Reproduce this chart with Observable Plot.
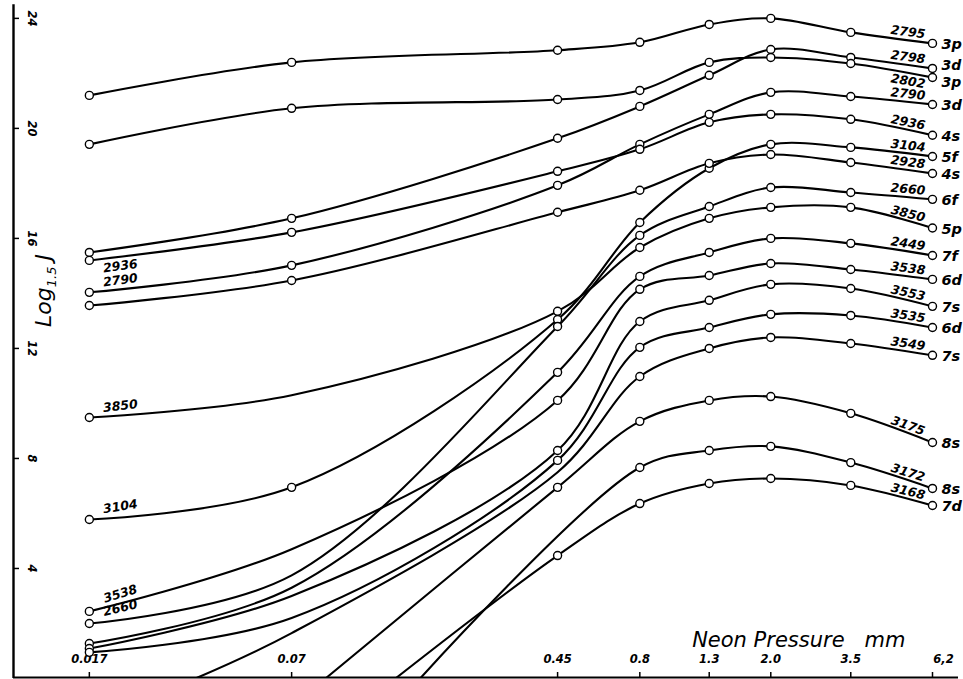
<!DOCTYPE html>
<html>
<head>
<meta charset="utf-8">
<script src="https://cdn.jsdelivr.net/npm/d3@7"></script>
<script src="https://cdn.jsdelivr.net/npm/@observablehq/plot@0.6"></script>
<style>
  html, body { margin: 0; padding: 0; background: #fff; }
  #chart { width: 963px; height: 679px; }
</style>
</head>
<body>
<div id="chart"></div>
<script>
// ---------- data ----------
const pressures = [0.017, 0.07, 0.45, 0.8, 1.3, 2.0, 3.5, 6.2];
const pressureLabels = ["0.017", "0.07", "0.45", "0.8", "1.3", "2.0", "3.5", "6,2"];
const yTicks = [4, 8, 12, 16, 20, 24];

const wavelengths = ["2795","2798","2802","2790","2936","3104","2928","2660","3850",
                     "2449","3538","3553","3535","3549","3175","3172","3168"];
const terms = ["3p","3d","3p","3d","4s","5f","4s","6f","5p",
               "7f","6d","7s","6d","7s","8s","8s","7d"];

// log1.5 J at each pressure (null = no measured point)
const s2795 = [21.2, 22.4, 22.84, 23.13, 23.78, 24.0, 23.49, 23.09];
const s2798 = [15.49, 16.73, 19.64, 20.8, 21.93, 22.87, 22.58, 22.18];
const s2802 = [19.42, 20.73, 21.05, 21.38, 22.4, 22.58, 22.36, 21.85];
const s2790 = [14.04, 15.02, 17.93, 19.42, 20.51, 21.31, 21.16, 20.87];
const s2936 = [15.2, 16.22, 18.44, 19.24, 20.22, 20.51, 20.33, 19.75];
const s3104 = [5.78, 6.95, 13.05, 16.58, 18.55, 19.42, 19.31, 18.98];
const s2928 = [13.56, 14.47, 16.95, 17.75, 18.73, 19.05, 18.76, 18.36];
const s2660 = [2.0, null, 12.8, 16.11, 17.16, 17.85, 17.67, 17.42];
const s3850 = [9.49, null, 13.35, 15.67, 16.73, 17.13, 17.13, 16.38];
const s2449 = [1.27, null, 11.13, 14.62, 15.49, 16.0, 15.82, 15.38];
const s3538 = [2.44, null, 10.11, 14.15, 14.65, 15.09, 14.87, 14.51];
const s3553 = [1.09, null, 8.29, 12.98, 13.75, 14.33, 14.18, 13.53];
const s3535 = [0.95, null, 7.93, 12.04, 12.76, 13.24, 13.2, 12.76];
const s3549 = [null, null, null, 10.98, 12.0, 12.4, 12.18, 11.75];
const s3175 = [null, null, 6.95, 9.35, 10.11, 10.25, 9.64, 8.58];
const s3172 = [null, null, null, 7.67, 8.29, 8.44, 7.85, 6.91];
const s3168 = [null, null, 4.47, 6.36, 7.09, 7.27, 7.02, 6.29];

const series = [s2795, s2798, s2802, s2790, s2936, s3104, s2928, s2660, s3850,
                s2449, s3538, s3553, s3535, s3549, s3175, s3172, s3168];

// unmarked points the drawn curves pass through
const guidePoints = {
  "3850": [[0.07, 10.3]],
  "2660": [[0.07, 3.75]],
  "3538": [[0.07, 4.7]],
  "2449": [[0.07, 3.3]],
  "3553": [[0.07, 3.0]],
  "3535": [[0.07, 2.2]],
  "3549": [[0.0357, 0], [0.07, 1.65], [0.45, 7.5]],
  "3175": [[0.0887, 0]],
  "3172": [[0.172, 0]],
  "3168": [[0.1447, 0]]
};

// wavelengths written at the left end of some curves
const leftLabels = ["2936", "2790", "3850", "3104", "3538", "2660"];

// ---------- layout ----------
const W = 963, H = 679;
const M = { top: 0, right: 31, bottom: 1, left: 13 };
const xDomain = [0.01, 6.2];
const yDomain = [0, 24.65];
const xs = Plot.scale({ x: { type: "log", domain: xDomain, range: [M.left, W - M.right] } });
const ys = Plot.scale({ y: { type: "linear", domain: yDomain, range: [H - M.bottom, M.top] } });
const numFont = { fontFamily: "DejaVu Sans", fontStyle: "italic", fontWeight: "bold" };

// ---------- build rows ----------
const rows = [];
series.forEach((vals, i) => {
  vals.forEach((v, j) => { if (v != null) rows.push({ line: i, p: pressures[j], v, marked: true }); });
  (guidePoints[wavelengths[i]] || []).forEach(([p, v]) => rows.push({ line: i, p, v, marked: false }));
});
rows.sort((a, b) => a.line - b.line || a.p - b.p);

function pixelPoints(i) {
  return rows.filter(r => r.line === i).map(r => [xs.apply(r.p), ys.apply(r.v)]);
}

// right-end wavelength labels (along the last segment)
const rightBelow = new Set(["2802"]);
const rightLabelRows = series.map((vals, i) => {
  const pts = pixelPoints(i);
  const [a, b] = [pts[pts.length - 2], pts[pts.length - 1]];
  const f = 0.7;
  const px = a[0] + f * (b[0] - a[0]), py = a[1] + f * (b[1] - a[1]);
  return { p: xs.invert(px), v: ys.invert(py), text: wavelengths[i], below: rightBelow.has(wavelengths[i]),
           angle: Math.atan2(b[1] - a[1], b[0] - a[0]) * 180 / Math.PI };
});
const termShift = { "2798": -3, "2802": 5 };
const termRows = series.map((vals, i) => ({ p: pressures[7], v: vals[7], text: terms[i],
  shift: termShift[wavelengths[i]] || 0 }));

// left-end wavelength labels
const leftLabelRows = leftLabels.map(w => {
  const i = wavelengths.indexOf(w);
  const pts = pixelPoints(i);
  const [a, b] = [pts[0], pts[1]];
  const px = a[0] + 31, t = (px - a[0]) / (b[0] - a[0]);
  const py = a[1] + t * (b[1] - a[1]);
  return { p: xs.invert(px), v: ys.invert(py), text: w, below: w === "2936",
           angle: Math.atan2(b[1] - a[1], b[0] - a[0]) * 180 / Math.PI };
});

const frameW = W - M.left - M.right, frameH = H - M.top - M.bottom;
const lbl = (data, dy) => Plot.text(data, { x: "p", y: "v", text: "text", rotate: "angle", dy,
  fontSize: 12.5, fill: "black", ...numFont });
const termText = (data, dy, size) => Plot.text(data, { x: "p", y: "v", text: "text", textAnchor: "start",
  dx: 9, dy, fontSize: size, fontFamily: "DejaVu Sans", fontStyle: "italic", fontWeight: "bold", fill: "black" });

const plot = Plot.plot({
  width: W, height: H,
  marginTop: M.top, marginRight: M.right, marginBottom: M.bottom, marginLeft: M.left,
  x: { type: "log", domain: xDomain, axis: null },
  y: { type: "linear", domain: yDomain, axis: null },
  style: { background: "white", overflow: "visible" },
  marks: [
    // axes
    Plot.ruleX([xDomain[0]], { y1: 0, y2: 24.5, stroke: "black", strokeWidth: 2.4 }),
    Plot.ruleY([0.04], { stroke: "black", strokeWidth: 2, insetRight: -26 }),
    Plot.tickY(yTicks, { y: d => d, stroke: "black", strokeWidth: 1.5, insetRight: frameW - 6 }),
    Plot.tickX(pressures, { x: d => d, stroke: "black", strokeWidth: 1.5, insetTop: frameH - 6 }),
    Plot.text(yTicks, { frameAnchor: "left", textAnchor: "middle", y: d => d, text: d => String(d),
      rotate: 90, dx: 18, fontSize: 11.5, fill: "black", ...numFont }),
    Plot.text(pressures.slice(0, 7), { x: d => d, frameAnchor: "bottom", text: (d, i) => pressureLabels[i],
      dy: -16, fontSize: 11.5, fill: "black", ...numFont }),
    Plot.text(pressures.slice(7), { x: d => d, frameAnchor: "bottom", text: (d, i) => pressureLabels[7 + i],
      dx: 11, dy: -16, fontSize: 11.5, fill: "black", ...numFont }),
    Plot.text(["Neon Pressure   mm"], { frameAnchor: "bottom-right", textAnchor: "end", lineAnchor: "bottom",
      dx: -27, dy: -32, fontSize: 21, fontFamily: "DejaVu Sans", fontStyle: "italic", fill: "black" }),
    Plot.text(["Log1.5 J"], { frameAnchor: "left", textAnchor: "middle", rotate: -90, dx: 30, dy: -49,
      fontSize: 22, fontFamily: "DejaVu Sans", fontStyle: "italic", fill: "black" }),
    // curves
    Plot.line(rows, { x: "p", y: "v", z: "line", curve: "catmull-rom", stroke: "black",
      strokeWidth: 2.1, clip: true }),
    Plot.dot(rows.filter(r => r.marked), { x: "p", y: "v", r: 4, fill: "white", stroke: "black",
      strokeWidth: 1.4 }),
    // labels
    lbl(rightLabelRows.filter(d => !d.below), -8),
    lbl(rightLabelRows.filter(d => d.below), 8),
    termText(termRows.filter(d => d.shift === 0), 1, 14.5),
    termText(termRows.filter(d => d.shift < 0), -3, 14),
    termText(termRows.filter(d => d.shift > 0), 5, 14),
    lbl(leftLabelRows.filter(d => !d.below), -8),
    lbl(leftLabelRows.filter(d => d.below), 10)
  ]
});

// subscript in the y label
d3.select(plot).selectAll("text").filter(function () { return this.textContent === "Log1.5 J"; })
  .each(function () {
    const t = d3.select(this);
    t.text(null);
    t.append("tspan").text("Log");
    t.append("tspan").attr("font-size", 13).attr("dy", 5).text("1.5");
    t.append("tspan").attr("dy", -5).attr("dx", 6).text("J");
  });

document.getElementById("chart").appendChild(plot);
</script>
</body>
</html>
